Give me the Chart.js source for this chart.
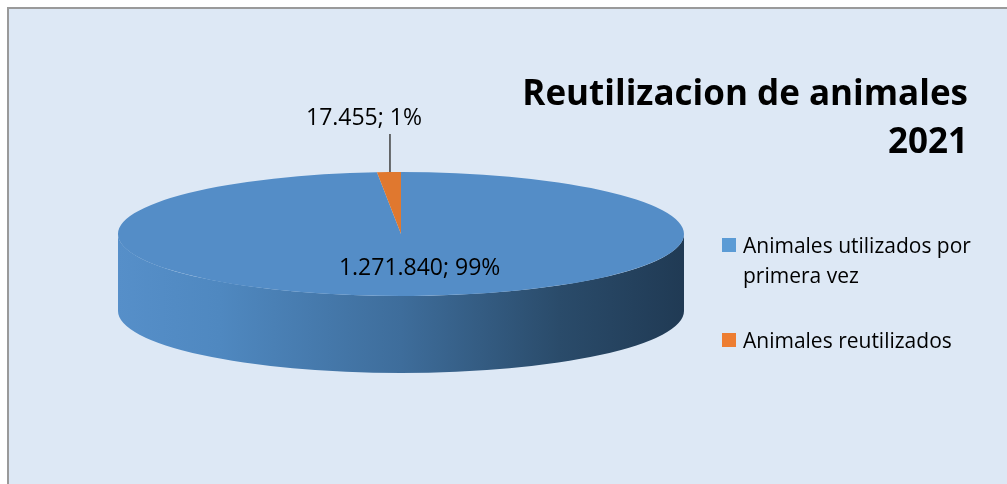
<!DOCTYPE html>
<html>
<head>
<meta charset="utf-8">
<script src="https://cdn.jsdelivr.net/npm/chart.js@4"></script>
<style>
  html, body { margin: 0; padding: 0; background: #fff; }
  canvas { display: block; }
</style>
</head>
<body>
<canvas id="pieChart" width="1007" height="484"></canvas>
<script>
// data
const categories = ['Animales utilizados por primera vez', 'Animales reutilizados'];
const legendLines = [['Animales utilizados por', 'primera vez'], ['Animales reutilizados']];
const values = [1271840, 17455];
const sliceColors = ['#548dc7', '#e0782f'];
const legendColors = ['#5b9bd5', '#ed7d31'];
const titleLines = ['Reutilizacion de animales', '2021'];

const total = values.reduce((a, b) => a + b, 0);
const fmt = n => String(n).replace(/\B(?=(\d{3})+(?!\d))/g, '.');
const pct = n => Math.round(n / total * 100) + '%';

const DEPTH = 77;
const FONT = '"Open Sans", "Noto Sans", sans-serif';

// frame + squashed 3d look
const pie3d = {
  id: 'pie3d',
  beforeDraw(chart) {
    const ctx = chart.ctx;
    ctx.save();
    ctx.fillStyle = '#dde8f5';
    ctx.fillRect(8, 8, 1100, 600);
    ctx.strokeStyle = '#9a9a9a';
    ctx.lineWidth = 2;
    ctx.strokeRect(8, 8, 1100, 600);
    ctx.restore();
  },
  beforeDatasetsDraw(chart) {
    const ctx = chart.ctx;
    const arc = chart.getDatasetMeta(0).data[0];
    const cx = arc.x, cy = arc.y;
    const ry = arc.outerRadius;
    const rx = chart.chartArea.width / 2;
    // side wall
    const g = ctx.createLinearGradient(cx - rx, 0, cx + rx, 0);
    g.addColorStop(0, '#568fc9');
    g.addColorStop(0.18, '#4f88c0');
    g.addColorStop(0.5, '#3e6d9b');
    g.addColorStop(0.78, '#2a4b6a');
    g.addColorStop(1, '#203a54');
    ctx.save();
    ctx.beginPath();
    ctx.ellipse(cx, cy, rx, ry, 0, 0, Math.PI);
    ctx.lineTo(cx - rx, cy + DEPTH);
    ctx.ellipse(cx, cy + DEPTH, rx, ry, 0, Math.PI, 0, true);
    ctx.closePath();
    ctx.fillStyle = g;
    ctx.fill();
    ctx.restore();
    // flatten top face
    ctx.save();
    ctx.translate(cx, cy);
    ctx.scale(rx / ry, 1);
    ctx.translate(-cx, -cy);
  },
  afterDatasetsDraw(chart) {
    chart.ctx.restore();
  },
  afterDraw(chart) {
    const ctx = chart.ctx;
    const meta = chart.getDatasetMeta(0);
    const arc0 = meta.data[0];
    const cx = arc0.x, cy = arc0.y;
    const ry = arc0.outerRadius;
    const k = chart.chartArea.width / 2 / ry;
    ctx.save();

    // title
    ctx.fillStyle = '#000';
    ctx.font = 'bold 35px ' + FONT;
    ctx.textAlign = 'right';
    ctx.textBaseline = 'alphabetic';
    ctx.fillText(titleLines[0], 968, 105);
    ctx.fillText(titleLines[1], 968, 153);

    // data labels
    ctx.font = '23px ' + FONT;
    ctx.fillStyle = '#000';
    ctx.textBaseline = 'middle';
    ctx.textAlign = 'center';
    meta.data.forEach((a, i) => {
      const mid = (a.startAngle + a.endAngle) / 2;
      const txt = fmt(values[i]) + '; ' + pct(values[i]);
      if (values[i] / total > 0.05) {
        const r = ry * 0.55;
        ctx.fillText(txt, cx + Math.cos(mid) * r * k + 12, cy + Math.sin(mid) * r);
      } else {
        const ex = cx + Math.cos(mid) * ry * k;
        const ey = cy + Math.sin(mid) * ry;
        ctx.strokeStyle = '#404040';
        ctx.lineWidth = 1.5;
        ctx.beginPath();
        ctx.moveTo(ex + 1, ey);
        ctx.lineTo(ex + 1, ey - 38);
        ctx.stroke();
        ctx.textBaseline = 'alphabetic';
        ctx.fillText(txt, ex - 25, ey - 47);
        ctx.textBaseline = 'middle';
      }
    });

    // legend
    ctx.textAlign = 'left';
    ctx.textBaseline = 'alphabetic';
    ctx.font = '21px ' + FONT;
    let y = 253;
    legendLines.forEach((lines, i) => {
      ctx.fillStyle = legendColors[i];
      ctx.fillRect(722, y - 15, 14, 14);
      ctx.fillStyle = '#000';
      lines.forEach((ln, j) => ctx.fillText(ln, 743, y + j * 30));
      y += lines.length * 30 + 35;
    });
    ctx.restore();
  }
};

const ctx = document.getElementById('pieChart').getContext('2d');

new Chart(ctx, {
  type: 'pie',
  data: {
    labels: categories,
    datasets: [{
      data: values,
      backgroundColor: sliceColors,
      borderWidth: 0
    }]
  },
  options: {
    responsive: false,
    animation: false,
    layout: {
      padding: { left: 118, right: 323, top: 172, bottom: 188 }
    },
    plugins: {
      legend: { display: false },
      title: { display: false },
      tooltip: { enabled: false }
    }
  },
  plugins: [pie3d]
});
</script>
</body>
</html>
